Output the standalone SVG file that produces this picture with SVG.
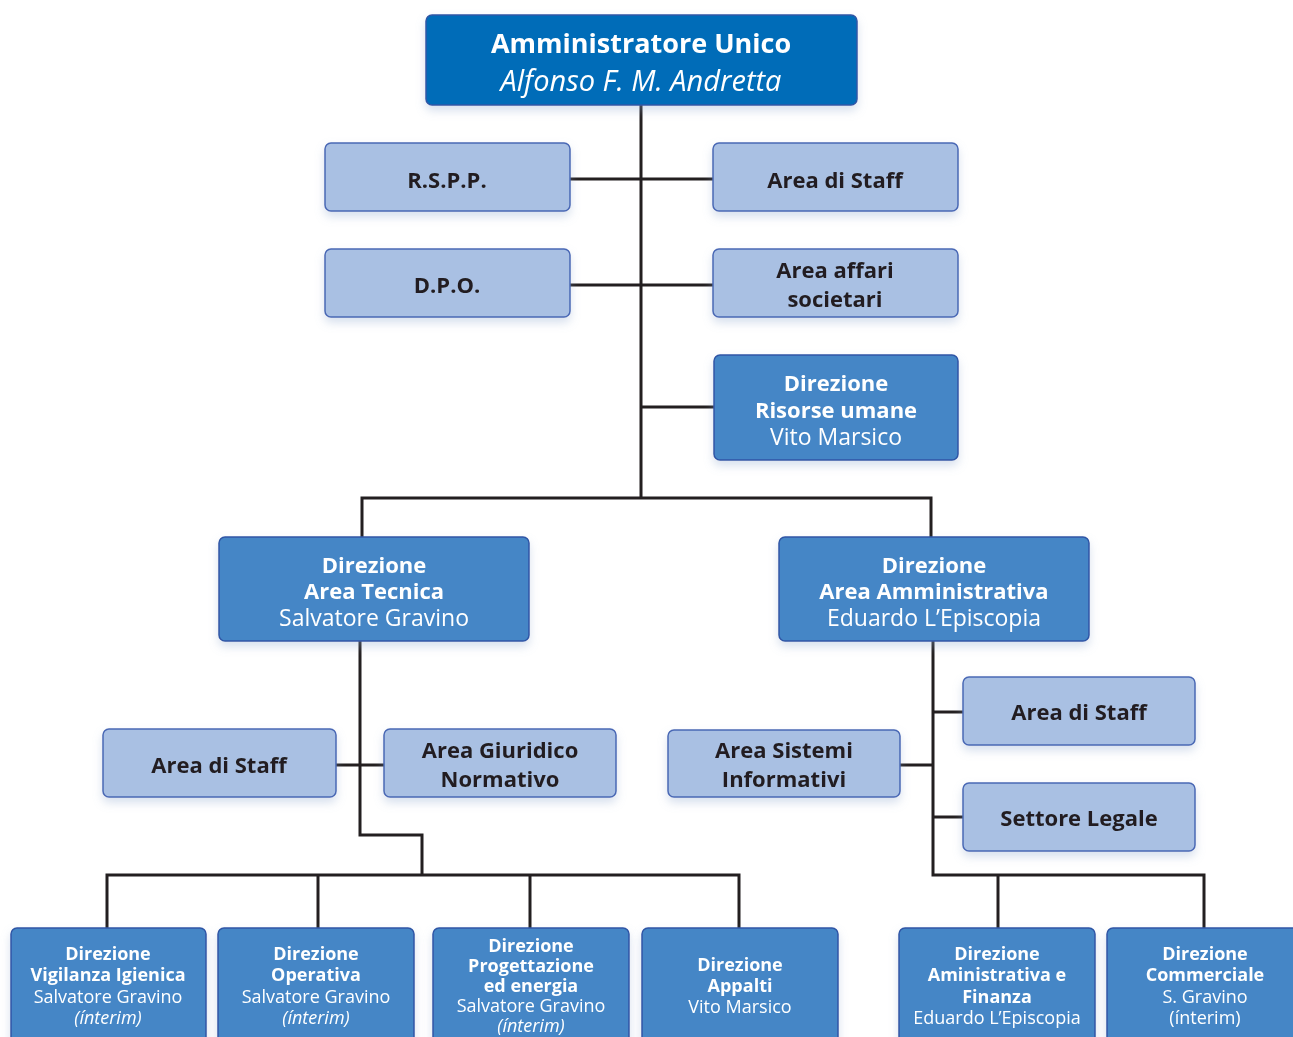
<svg xmlns="http://www.w3.org/2000/svg" width="1293" height="1037" viewBox="0 0 1293 1037">
<defs>
<filter id="sh" x="-10%" y="-20%" width="120%" height="150%">
<feDropShadow dx="0" dy="5" stdDeviation="5" flood-color="#8fa6cf" flood-opacity="0.35"/>
</filter>
<style>
text{font-family:"Open Sans","Noto Sans",sans-serif;text-anchor:middle}
.top{fill:#006cb8;stroke:#2f56a6;stroke-width:1.5}
.mid{fill:#4486c6;stroke:#2f56a6;stroke-width:1.5}
.lt{fill:#a9c0e3;stroke:#4a68b5;stroke-width:1.5}
.w{fill:#ffffff}
.d{fill:#231f20;font-weight:bold;font-size:22px}
.b{font-weight:bold}
.i{font-style:italic}
.c path{fill:none;stroke:#231f20;stroke-width:3}
</style>
</defs>
<rect width="1293" height="1037" fill="#ffffff"/>
<g class="c" id="connectors">
<path d="M641 105V498"/>
<path d="M570 179H713"/>
<path d="M570 285H713"/>
<path d="M641 407H714"/>
<path d="M362 537V498H931V537"/>
<path d="M360 641V835H422V875"/>
<path d="M336 765H384"/>
<path d="M107 928V875H739V928"/>
<path d="M318 875V928"/>
<path d="M530 875V928"/>
<path d="M933 641V875H1204V928"/>
<path d="M998 875V928"/>
<path d="M933 712H963"/>
<path d="M900 765H933"/>
<path d="M933 817H963"/>
</g>
<g id="n-au" filter="url(#sh)"><rect class="top" x="426" y="15" width="431" height="90" rx="6"/>
<text class="w b" x="641" y="53" font-size="27">Amministratore Unico</text>
<text class="w i" x="641" y="91" font-size="29">Alfonso F. M. Andretta</text></g>
<g id="n-rspp" filter="url(#sh)"><rect class="lt" x="325" y="143" width="245" height="68" rx="6"/>
<text class="d" x="447" y="188">R.S.P.P.</text></g>
<g id="n-staff1" filter="url(#sh)"><rect class="lt" x="713" y="143" width="245" height="68" rx="6"/>
<text class="d" x="835" y="188">Area di Staff</text></g>
<g id="n-dpo" filter="url(#sh)"><rect class="lt" x="325" y="249" width="245" height="68" rx="6"/>
<text class="d" x="447" y="293">D.P.O.</text></g>
<g id="n-affari" filter="url(#sh)"><rect class="lt" x="713" y="249" width="245" height="68" rx="6"/>
<text class="d" x="835" y="278">Area affari</text><text class="d" x="835" y="307">societari</text></g>
<g id="n-ru" filter="url(#sh)"><rect class="mid" x="714" y="355" width="244" height="105" rx="6"/>
<text class="w b" x="836" y="391" font-size="22">Direzione</text>
<text class="w b" x="836" y="418" font-size="22">Risorse umane</text>
<text class="w" x="836" y="445" font-size="23">Vito Marsico</text></g>
<g id="n-tec" filter="url(#sh)"><rect class="mid" x="219" y="537" width="310" height="104" rx="6"/>
<text class="w b" x="374" y="573" font-size="22">Direzione</text>
<text class="w b" x="374" y="599" font-size="22">Area Tecnica</text>
<text class="w" x="374" y="626" font-size="23">Salvatore Gravino</text></g>
<g id="n-amm" filter="url(#sh)"><rect class="mid" x="779" y="537" width="310" height="104" rx="6"/>
<text class="w b" x="934" y="573" font-size="22">Direzione</text>
<text class="w b" x="934" y="599" font-size="22">Area Amministrativa</text>
<text class="w" x="934" y="626" font-size="23">Eduardo L’Episcopia</text></g>
<g id="n-staff2" filter="url(#sh)"><rect class="lt" x="103" y="729" width="233" height="68" rx="6"/>
<text class="d" x="219" y="773">Area di Staff</text></g>
<g id="n-giur" filter="url(#sh)"><rect class="lt" x="384" y="729" width="232" height="68" rx="6"/>
<text class="d" x="500" y="758">Area Giuridico</text><text class="d" x="500" y="787">Normativo</text></g>
<g id="n-sist" filter="url(#sh)"><rect class="lt" x="668" y="730" width="232" height="67" rx="6"/>
<text class="d" x="784" y="758">Area Sistemi</text><text class="d" x="784" y="787">Informativi</text></g>
<g id="n-staff3" filter="url(#sh)"><rect class="lt" x="963" y="677" width="232" height="68" rx="6"/>
<text class="d" x="1079" y="720">Area di Staff</text></g>
<g id="n-legale" filter="url(#sh)"><rect class="lt" x="963" y="783" width="232" height="68" rx="6"/>
<text class="d" x="1079" y="826">Settore Legale</text></g>
<g id="n-vig" filter="url(#sh)"><rect class="mid" x="11" y="928" width="195" height="120" rx="6"/>
<text class="w b" x="108" y="960" font-size="18">Direzione</text>
<text class="w b" x="108" y="981" font-size="18">Vigilanza Igienica</text>
<text class="w" x="108" y="1003" font-size="18">Salvatore Gravino</text>
<text class="w i" x="108" y="1024" font-size="18">(ínterim)</text></g>
<g id="n-op" filter="url(#sh)"><rect class="mid" x="218" y="928" width="196" height="120" rx="6"/>
<text class="w b" x="316" y="960" font-size="18">Direzione</text>
<text class="w b" x="316" y="981" font-size="18">Operativa</text>
<text class="w" x="316" y="1003" font-size="18">Salvatore Gravino</text>
<text class="w i" x="316" y="1024" font-size="18">(ínterim)</text></g>
<g id="n-prog" filter="url(#sh)"><rect class="mid" x="433" y="928" width="196" height="120" rx="6"/>
<text class="w b" x="531" y="952" font-size="18">Direzione</text>
<text class="w b" x="531" y="972" font-size="18">Progettazione</text>
<text class="w b" x="531" y="992" font-size="18">ed energia</text>
<text class="w" x="531" y="1012" font-size="18">Salvatore Gravino</text>
<text class="w i" x="531" y="1032" font-size="18">(ínterim)</text></g>
<g id="n-app" filter="url(#sh)"><rect class="mid" x="642" y="928" width="196" height="120" rx="6"/>
<text class="w b" x="740" y="971" font-size="18">Direzione</text>
<text class="w b" x="740" y="992" font-size="18">Appalti</text>
<text class="w" x="740" y="1013" font-size="18">Vito Marsico</text></g>
<g id="n-fin" filter="url(#sh)"><rect class="mid" x="899" y="928" width="196" height="120" rx="6"/>
<text class="w b" x="997" y="960" font-size="18">Direzione</text>
<text class="w b" x="997" y="981" font-size="18">Aministrativa e</text>
<text class="w b" x="997" y="1003" font-size="18">Finanza</text>
<text class="w" x="997" y="1024" font-size="18">Eduardo L’Episcopia</text></g>
<g id="n-comm" filter="url(#sh)"><rect class="mid" x="1107" y="928" width="196" height="120" rx="6"/>
<text class="w b" x="1205" y="960" font-size="18">Direzione</text>
<text class="w b" x="1205" y="981" font-size="18">Commerciale</text>
<text class="w" x="1205" y="1003" font-size="18">S. Gravino</text>
<text class="w" x="1205" y="1024" font-size="18">(ínterim)</text></g>
</svg>
